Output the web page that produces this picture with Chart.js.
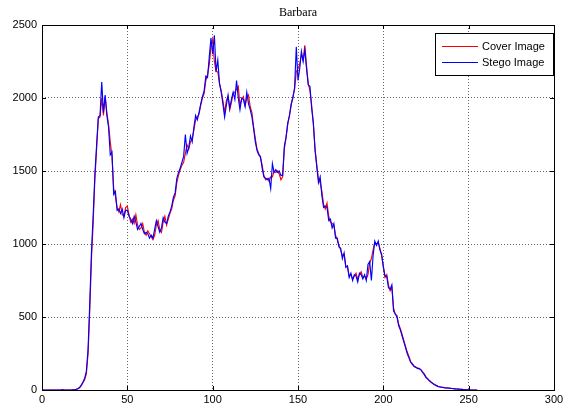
<!DOCTYPE html>
<html>
<head>
<meta charset="utf-8">
<script src="https://cdn.jsdelivr.net/npm/chart.js@4"></script>
<style>
html,body{margin:0;padding:0;background:#fff;}
#wrap{width:579px;height:412px;position:relative;}
</style>
</head>
<body>
<div id="wrap"><canvas id="c" width="579" height="412"></canvas></div>
<script>
const chartTitle = "Barbara";
const seriesNames = ["Cover Image", "Stego Image"];
const xTicks = [0, 50, 100, 150, 200, 250, 300];
const yTicks = [0, 500, 1000, 1500, 2000, 2500];
// gray levels 0..255
const grayLevels = Array.from({length: 256}, (_, i) => i);

const coverValues = [
0,0,0,0,0,0,0,0,0,0,0,0,0,0,0,0,0,0,1,2,
4,8,15,30,50,70,110,250,550,900,1150,1450,1650,1860,1870,2000,1880,2010,1900,1820,
1700,1600,1380,1330,1250,1220,1270,1200,1190,1250,1260,1200,1150,1170,1140,1200,1130,1100,1110,1140,
1080,1060,1090,1070,1050,1030,1060,1130,1160,1100,1080,1150,1190,1130,1170,1210,1240,1300,1330,1420,
1470,1510,1540,1560,1620,1680,1650,1700,1720,1780,1850,1870,1890,1950,2000,2030,2120,2160,2230,2350,
2400,2250,2180,2180,2100,2050,1980,1900,1980,2010,1920,1970,2030,2040,2060,2080,1950,1990,2010,1950,
2000,2020,1940,1900,1800,1720,1650,1620,1590,1540,1470,1440,1450,1430,1460,1460,1500,1490,1500,1480,
1440,1460,1650,1730,1820,1880,1950,2010,2060,2180,2200,2230,2300,2260,2360,2220,2100,2050,1950,1820,
1650,1540,1440,1420,1360,1270,1240,1280,1190,1150,1140,1130,1060,1030,990,960,920,930,850,840,
780,790,760,780,800,760,790,810,770,780,760,790,870,900,960,1010,1000,1010,970,920,
850,770,790,720,680,700,560,520,510,450,420,380,340,300,260,230,195,180,165,158,
150,148,140,125,110,90,78,65,55,45,38,32,26,22,20,18,16,15,14,13,
11,10,8,7,6,5,4,3,2,2,1,0,0,0,0,0
];

const stegoValues = [
0,0,0,0,0,0,0,0,0,0,0,0,3,0,0,0,0,0,1,2,
5,9,17,33,55,80,130,280,600,950,1200,1480,1680,1870,1880,2110,1900,2020,1880,1800,
1610,1630,1340,1360,1230,1240,1210,1240,1180,1230,1230,1190,1170,1140,1190,1150,1100,1120,1140,1100,
1070,1080,1070,1040,1060,1040,1100,1160,1120,1080,1110,1180,1150,1140,1190,1220,1260,1320,1350,1450,
1490,1520,1560,1600,1750,1620,1660,1740,1700,1800,1880,1850,1900,1960,2010,2050,2150,2140,2280,2410,
2300,2430,2180,2260,2100,2040,1960,1870,1950,2020,1930,1990,2040,1990,2120,2000,1920,2000,1990,1940,
2040,1960,1920,1870,1790,1700,1640,1610,1600,1520,1460,1450,1440,1450,1380,1550,1490,1510,1490,1500,
1470,1470,1670,1730,1830,1880,1960,2000,2070,2350,2120,2200,2320,2250,2330,2200,2090,2080,1930,1830,
1640,1530,1420,1460,1330,1250,1260,1250,1160,1170,1110,1140,1040,1040,980,970,900,940,840,850,
770,800,750,790,780,740,800,790,760,790,750,860,880,750,920,1020,990,1020,960,930,
840,780,780,700,690,720,540,520,500,440,410,370,330,290,250,220,190,175,160,155,
148,145,138,120,105,85,75,62,52,44,36,30,25,21,19,17,15,14,13,12,
10,9,8,7,6,5,4,3,2,1,1,0,0,0,0,0
];

const coverPts = grayLevels.map((g, i) => ({x: g, y: coverValues[i]}));
const stegoPts = grayLevels.map((g, i) => ({x: g, y: stegoValues[i]}));

const framePlugin = {
  id: 'frameAndLegend',
  afterDraw(chart) {
    const ctx = chart.ctx;
    const a = chart.chartArea;
    ctx.save();
    ctx.strokeStyle = '#000';
    ctx.lineWidth = 1;
    ctx.strokeRect(Math.round(a.left) + 0.5, Math.round(a.top) + 0.5, Math.round(a.right - a.left), Math.round(a.bottom - a.top));
    const xs = chart.scales.x, ys = chart.scales.y;
    ctx.beginPath();
    xTicks.forEach(v => {
      const px = Math.round(xs.getPixelForValue(v)) + 0.5;
      ctx.moveTo(px, a.bottom); ctx.lineTo(px, a.bottom - 4);
      ctx.moveTo(px, a.top); ctx.lineTo(px, a.top + 4);
    });
    yTicks.forEach(v => {
      const py = Math.round(ys.getPixelForValue(v)) + 0.5;
      ctx.moveTo(a.left, py); ctx.lineTo(a.left + 4, py);
      ctx.moveTo(a.right, py); ctx.lineTo(a.right - 4, py);
    });
    ctx.stroke();
    ctx.fillStyle = '#000';
    ctx.font = '12px "Liberation Serif", "Times New Roman", serif';
    ctx.textAlign = 'center';
    ctx.textBaseline = 'middle';
    ctx.fillText(chartTitle, (a.left + a.right) / 2, 13);
    const bx = 435, by = 33, bw = 118, bh = 42;
    ctx.fillStyle = '#fff';
    ctx.fillRect(bx, by, bw, bh);
    ctx.strokeStyle = '#000';
    ctx.strokeRect(bx + 0.5, by + 0.5, bw, bh);
    ctx.font = '11px "Liberation Sans", Arial, sans-serif';
    ctx.textAlign = 'left';
    const items = [chart.data.datasets[1], chart.data.datasets[0]];
    items.forEach((ds, i) => {
      const y = by + 13 + i * 16;
      ctx.strokeStyle = ds.borderColor;
      ctx.lineWidth = 1;
      ctx.beginPath();
      ctx.moveTo(442, y + 0.5); ctx.lineTo(478, y + 0.5);
      ctx.stroke();
      ctx.fillStyle = '#000';
      ctx.fillText(ds.label, 482, y + 1);
    });
    ctx.restore();
  }
};

const tickFont = {family: '"Liberation Sans", Arial, sans-serif', size: 11};

new Chart(document.getElementById('c'), {
  type: 'line',
  data: {
    datasets: [
      {label: seriesNames[1], data: stegoPts, borderColor: '#0000ff', borderWidth: 1.15, pointRadius: 0, tension: 0, fill: false, order: 0},
      {label: seriesNames[0], data: coverPts, borderColor: '#ff0000', borderWidth: 1.15, pointRadius: 0, tension: 0, fill: false, order: 1}
    ]
  },
  options: {
    responsive: false,
    animation: false,
    devicePixelRatio: 1,
    layout: {padding: {top: 25, right: 25, left: 0, bottom: 0}},
    plugins: {legend: {display: false}, title: {display: false}, tooltip: {enabled: false}},
    scales: {
      x: {
        type: 'linear', min: 0, max: 300,
        afterBuildTicks: s => { s.ticks = xTicks.map(v => ({value: v})); },
        afterFit: s => { s.height = 22; },
        ticks: {color: '#000', font: tickFont, padding: 3, maxRotation: 0, callback: v => String(v)},
        grid: {color: 'rgba(0,0,0,0.6)', drawTicks: false, tickLength: 0},
        border: {display: false, dash: [1, 2]}
      },
      y: {
        min: 0, max: 2500,
        afterBuildTicks: s => { s.ticks = yTicks.map(v => ({value: v})); },
        afterFit: s => { s.width = 42; },
        ticks: {color: '#000', font: tickFont, padding: 5, callback: v => String(v)},
        grid: {color: 'rgba(0,0,0,0.6)', drawTicks: false, tickLength: 0},
        border: {display: false, dash: [1, 2]}
      }
    }
  },
  plugins: [framePlugin]
});
</script>
</body>
</html>
